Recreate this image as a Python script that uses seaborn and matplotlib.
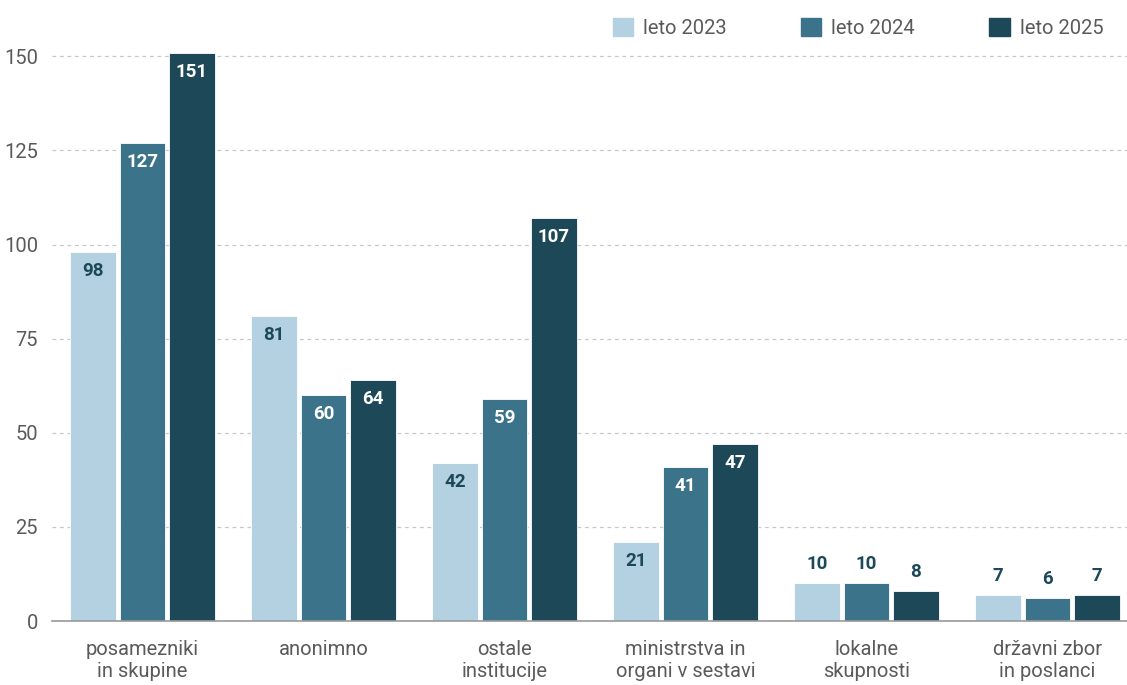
import pandas as pd
import matplotlib.pyplot as plt
import seaborn as sns

sns.set_style("white")
plt.rcParams['font.family'] = ['Roboto', 'DejaVu Sans']

# --- DATA ---
categories = ['posamezniki\nin skupine', 'anonimno', 'ostale\ninstitucije',
              'ministrstva in\norgani v sestavi', 'lokalne\nskupnosti',
              'državni zbor\nin poslanci']
years = ['leto 2023', 'leto 2024', 'leto 2025']
vals_2023 = [98, 81, 42, 21, 10, 7]
vals_2024 = [127, 60, 59, 41, 10, 6]
vals_2025 = [151, 64, 107, 47, 8, 7]

colors = ['#b3d1e0', '#3b748a', '#1d4858']
label_colors = ['#1d4858', 'white', 'white']
text_gray = '#5a5a5a'

df = pd.DataFrame({
    'kategorija': categories * 3,
    'leto': [years[0]] * 6 + [years[1]] * 6 + [years[2]] * 6,
    'stevilo': vals_2023 + vals_2024 + vals_2025,
})

# --- PLOTTING ---
fig = plt.figure(figsize=(11.27, 6.85), dpi=100)
ax = fig.add_axes([0.046, 0.0934, 0.954, 0.893])

sns.barplot(data=df, x='kategorija', y='stevilo', hue='leto',
            palette=colors, saturation=1, width=0.82, gap=0.08, ax=ax,
            edgecolor='white', linewidth=0.6, legend=False)

ax.set_xlim(-0.5, 5.44)
ax.set_ylim(0, 162.5)
ax.set_yticks([0, 25, 50, 75, 100, 125, 150])
ax.set_xlabel('')
ax.set_ylabel('')
ax.tick_params(axis='both', length=0, labelsize=14.5, labelcolor=text_gray)
ax.tick_params(axis='x', pad=14)
ax.tick_params(axis='y', pad=10)

for lbl in ax.get_xticklabels():
    lbl.set_linespacing(1.15)

ax.yaxis.grid(True, linestyle=(0, (3, 3)), color='#c8c8c8', linewidth=0.9)
ax.set_axisbelow(True)
for side in ['top', 'right', 'left']:
    ax.spines[side].set_visible(False)
ax.spines['bottom'].set_color('#999999')
ax.spines['bottom'].set_linewidth(1.2)

# value labels
for i, cont in enumerate(ax.containers):
    for bar in cont:
        h = bar.get_height()
        xc = bar.get_x() + bar.get_width() / 2
        if h >= 15:
            ax.annotate(f'{int(h)}', (xc, h), xytext=(0, -19),
                        textcoords='offset pixels', ha='center', va='center',
                        fontsize=13.5, fontweight='bold', color=label_colors[i])
        else:
            ax.annotate(f'{int(h)}', (xc, h), xytext=(0, 19),
                        textcoords='offset pixels', ha='center', va='center',
                        fontsize=13.5, fontweight='bold', color='#1d4858')

# legend
handles = [plt.Rectangle((0, 0), 1, 1, color=c) for c in colors]
fig.legend(handles, years, loc='upper right', bbox_to_anchor=(0.995, 1.0),
           ncol=3, frameon=False, fontsize=14.5, labelcolor=text_gray,
           handlelength=1.0, handleheight=1.0, handletextpad=0.5,
           columnspacing=3.7)

fig.savefig('out.png', dpi=100)
